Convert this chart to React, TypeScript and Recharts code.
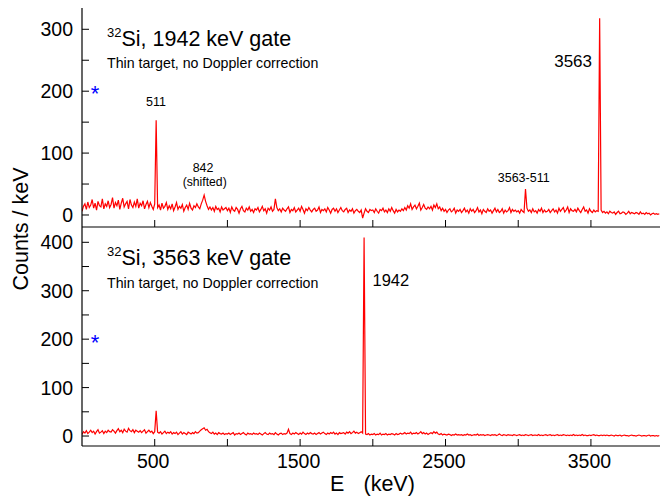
import { LineChart, Line, XAxis, YAxis } from 'recharts';

// one spectrum bin every 10 keV, starting at 0
const BIN_KEV = 10;

// 32Si, 1942 keV gate
const TOP_COUNTS = [
  6, 14, 18, 9, 21, 12, 16, 25, 11, 19, 8, 22, 15, 13, 26, 10, 18, 14, 23, 12,
  17, 28, 11, 20, 15, 24, 9, 19, 27, 13, 18, 22, 10, 25, 16, 12, 21, 14, 26, 11,
  19, 15, 23, 10, 17, 22, 12, 20, 14, 9, 18, 153, 12, 16, 8, 19, 11, 14, 20, 9,
  15, 10, 18, 7, 13, 20, 9, 14, 11, 17, 6, 12, 16, 9, 19, 11, 8, 15, 12, 18,
  13, 10, 18, 24, 32, 22, 15, 9, 13, 8, 12, 6, 14, 9, 11, 5, 13, 8, 10, 12,
  7, 11, 4, 13, 8, 6, 12, 9, 3, 10, 14, 7, 5, 11, 8, 13, 6, 9, 4, 10,
  8, 12, 5, 9, 14, 7, 10, 3, 11, 8, 13, 6, 9, 26, 12, 7, 10, 5, 11, 8,
  6, 10, 13, 4, 9, 7, 12, 5, 8, 11, 6, 14, 9, 3, 10, 7, 12, 8, 5, 9,
  11, 6, 8, 13, 4, 9, 7, 10, 5, 12, 8, 3, 9, 11, 6, 10, 4, 8, 12, 7,
  5, 9, 11, 4, 8, 6, 10, 3, 7, 9, 6, 4, 8, -5, 3, 10, 6, 4, 9, 7,
  8, 4, 10, 6, 3, 9, 7, 11, 5, 8, 4, 10, 6, 12, 7, 3, 9, 5, 8, 6,
  10, 7, 12, 8, 15, 11, 18, 9, 13, 16, 10, 14, 19, 8, 12, 17, 11, 9, 13, 10,
  14, 8, 16, 12, 18, 10, 13, 7, 11, 6, 9, 4, 8, 10, 5, 7, 11, 3, 8, 6,
  9, 4, 7, 11, 5, 8, 3, 10, 6, 9, 4, 7, 12, 5, 8, 2, 9, 6, 4, 10,
  6, 8, 3, 7, 11, 5, 9, 4, 6, 10, 3, 8, 5, 7, 12, 4, 9, 6, 8, 5,
  7, 3, 9, 6, 4, 42, 11, 6, 8, 4, 10, 5, 7, 3, 9, 6, 11, 4, 8, 5,
  6, 9, 4, 7, 10, 5, 8, 3, 11, 6, 9, 12, 5, 8, 13, 4, 10, 7, 6, 9,
  5, 11, 7, 4, 9, 13, 6, 8, 3, 10, 6, 4, 8, 5, 7, 6, 318, 8, 4, 6,
  3, 5, 2, 6, 4, 3, 5, 1, 4, 6, 2, 3, 5, 4, 1, 3, 6, 2, 4, 3,
  2, 4, 3, 1, 5, 2, 3, 1, 4, 2, 3, 0, 2, 3, 1, 2, 1, 2,
];

// 32Si, 3563 keV gate
const BOTTOM_COUNTS = [
  3, 9, 6, 11, 5, 8, 12, 7, 10, 4, 9, 13, 6, 8, 11, 5, 10, 7, 12, 9,
  8, 13, 10, 6, 11, 15, 9, 12, 7, 14, 10, 8, 16, 11, 9, 13, 7, 12, 10, 8,
  11, 7, 10, 13, 6, 9, 12, 8, 10, 5, 9, 52, 8, 6, 9, 4, 7, 10, 5, 8,
  6, 9, 4, 7, 5, 8, 3, 6, 9, 4, 7, 5, 3, 8, 6, 4, 7, 5, 9, 6,
  7, 10, 13, 15, 17, 12, 14, 9, 7, 5, 8, 4, 6, 3, 7, 5, 4, 6, 3, 5,
  4, 6, 3, 5, 7, 2, 5, 4, 6, 3, 5, 7, 4, 2, 6, 4, 5, 3, 6, 4,
  5, 3, 6, 4, 2, 5, 7, 4, 3, 6, 4, 5, 3, 7, 4, 2, 5, 6, 3, 5,
  4, 6, 14, 5, 3, 6, 4, 7, 5, 3, 6, 4, 8, 5, 3, 6, 4, 7, 5, 4,
  6, 3, 5, 7, 4, 6, 8, 5, 3, 6, 4, 7, 5, 8, 4, 6, 3, 7, 5, 6,
  7, 4, 8, 6, 9, 5, 7, 10, 6, 8, 5, 7, 9, 6, 410, 4, 3, 5, 2, 4,
  3, 5, 2, 4, 3, 6, 2, 4, 3, 5, 2, 4, 3, 5, 4, 2, 5, 3, 4, 6,
  4, 5, 7, 4, 6, 5, 8, 4, 6, 5, 7, 4, 6, 9, 5, 7, 4, 6, 3, 5,
  7, 5, 9, 6, 8, 4, 3, 5, 2, 4, 3, 2, 4, 3, 1, 3, 2, 4, 2, 3,
  2, 3, 1, 3, 2, 4, 2, 3, 1, 2, 3, 2, 4, 1, 3, 2, 3, 1, 2, 3,
  2, 1, 3, 2, 3, 1, 2, 4, 2, 1, 3, 2, 1, 3, 2, 2, 1, 3, 2, 1,
  2, 3, 1, 2, 1, 3, 2, 1, 2, 3, 1, 2, 2, 1, 3, 1, 2, 1, 2, 3,
  1, 2, 3, 1, 2, 1, 2, 3, 1, 2, 1, 3, 2, 1, 2, 1, 2, 1, 3, 1,
  2, 1, 2, 1, 3, 1, 2, 1, 1, 2, 1, 2, 3, 1, 2, 1, 1, 2, 1, 2,
  1, 2, 1, 1, 2, 1, 0, 2, 1, 1, 2, 0, 1, 2, 1, 1, 0, 1, 2, 1,
  1, 0, 1, 2, 1, 0, 1, 1, 0, 1, 2, 0, 1, 1, 0, 1, 0, 1,
];

const X_TICKS = [500, 1000, 1500, 2000, 2500, 3000, 3500];
const X_LABELS = [500, 1500, 2500, 3500];
const TOP_Y_TICKS = [0, 50, 100, 150, 200, 250, 300];
const BOTTOM_Y_TICKS = [0, 50, 100, 150, 200, 250, 300, 350, 400];

const X_DOMAIN: [number, number] = [0, 3975];
const TOP_DOMAIN: [number, number] = [-19.4, 334.4];
const BOTTOM_DOMAIN: [number, number] = [-20.6, 431.6];

const FONT = '"Liberation Sans", Arial, Helvetica, sans-serif';
const RED = '#ff0000';

const toRows = (counts: number[]) => counts.map((c, i) => ({ e: i * BIN_KEV, c }));
const topData = toRows(TOP_COUNTS);
const bottomData = toRows(BOTTOM_COUNTS);

// ticks point into the frame, labels sit outside
function YTick({ x, y, payload }: any) {
  const v = payload.value;
  return (
    <g>
      <line x1={x} x2={x + 7} y1={y} y2={y} stroke="#000" strokeWidth={1} />
      {v % 100 === 0 && (
        <text x={x - 9} y={y + 7} textAnchor="end" fontSize={19.5} fontFamily={FONT} fill="#000">
          {v}
        </text>
      )}
    </g>
  );
}

function XTick({ x, y, payload, showLabel }: any) {
  const v = payload.value;
  return (
    <g>
      <line x1={x} x2={x} y1={y} y2={y - 7} stroke="#000" strokeWidth={1} />
      {showLabel && X_LABELS.includes(v) && (
        <text x={x - 1.5} y={y + 22} textAnchor="middle" fontSize={19.5} fontFamily={FONT} fill="#000">
          {v}
        </text>
      )}
    </g>
  );
}

const axisLine = { stroke: '#000', strokeWidth: 1.2 };

function Title({ y, gate }: { y: number; gate: string }) {
  return (
    <>
      <text x={107} y={y} fontFamily={FONT} fill="#000">
        <tspan fontSize={13} dy={-9}>32</tspan>
        <tspan fontSize={21.5} dy={9}>{`Si, ${gate} keV gate`}</tspan>
      </text>
      <text x={107} y={y + 22.5} fontFamily={FONT} fontSize={14.2} fill="#000">
        Thin target, no Doppler correction
      </text>
    </>
  );
}

export default function App() {
  return (
    <div style={{ position: 'absolute', left: 0, top: 0, width: 660, height: 497, background: '#fff' }}>
      <div style={{ position: 'absolute', left: 0, top: 0 }}>
        <LineChart width={660} height={240} data={topData} margin={{ top: 8, right: 0, bottom: 0, left: 0 }}>
          <XAxis
            dataKey="e"
            type="number"
            domain={X_DOMAIN}
            ticks={X_TICKS}
            interval={0}
            height={13}
            tickSize={0}
            tickMargin={0}
            tickLine={false}
            axisLine={axisLine}
            tick={(p: any) => <XTick {...p} showLabel={false} />}
            allowDataOverflow
          />
          <XAxis xAxisId="top" orientation="top" type="number" domain={X_DOMAIN} height={0} tick={false} tickLine={false} axisLine={axisLine} />
          <YAxis
            type="number"
            domain={TOP_DOMAIN}
            ticks={TOP_Y_TICKS}
            interval={0}
            width={82}
            tickSize={0}
            tickMargin={0}
            tickLine={false}
            axisLine={axisLine}
            tick={YTick}
            allowDataOverflow
          />
          <Line dataKey="c" type="linear" stroke={RED} strokeWidth={1.2} dot={false} isAnimationActive={false} />
        </LineChart>
      </div>
      <div style={{ position: 'absolute', left: 0, top: 227 }}>
        <LineChart width={660} height={270} data={bottomData} margin={{ top: 0, right: 0, bottom: 0, left: 0 }}>
          <XAxis
            dataKey="e"
            type="number"
            domain={X_DOMAIN}
            ticks={X_TICKS}
            interval={0}
            height={51}
            tickSize={0}
            tickMargin={0}
            tickLine={false}
            axisLine={axisLine}
            tick={(p: any) => <XTick {...p} showLabel />}
            allowDataOverflow
          />
          <YAxis
            type="number"
            domain={BOTTOM_DOMAIN}
            ticks={BOTTOM_Y_TICKS}
            interval={0}
            width={82}
            tickSize={0}
            tickMargin={0}
            tickLine={false}
            axisLine={axisLine}
            tick={YTick}
            allowDataOverflow
          />
          <Line dataKey="c" type="linear" stroke={RED} strokeWidth={1.2} dot={false} isAnimationActive={false} />
        </LineChart>
      </div>
      <svg width={660} height={497} style={{ position: 'absolute', left: 0, top: 0, pointerEvents: 'none' }}>
        <Title y={45.7} gate="1942" />
        <Title y={265} gate="3563" />
        <text x={95} y={100.5} textAnchor="middle" fontSize={22} fontFamily={FONT} fill="#0000ff">*</text>
        <text x={95} y={349.5} textAnchor="middle" fontSize={22} fontFamily={FONT} fill="#0000ff">*</text>
        <g fontFamily={FONT} fill="#000">
          <text x={156} y={106} textAnchor="middle" fontSize={12.5}>511</text>
          <text x={203} y={172.3} textAnchor="middle" fontSize={12.4}>842</text>
          <text x={204.7} y={185.5} textAnchor="middle" fontSize={12.2}>(shifted)</text>
          <text x={523.7} y={181.7} textAnchor="middle" fontSize={12.5}>3563-511</text>
          <text x={592} y={67.3} textAnchor="end" fontSize={17}>3563</text>
          <text x={372.5} y={286} fontSize={16.5}>1942</text>
          <text x={330} y={491} fontSize={21.5}>E</text>
          <text x={363.5} y={491} fontSize={21.5}>(keV)</text>
          <text x={28} y={229} fontSize={21.5} textAnchor="middle" transform="rotate(-90 28 229)">Counts / keV</text>
        </g>
      </svg>
    </div>
  );
}
